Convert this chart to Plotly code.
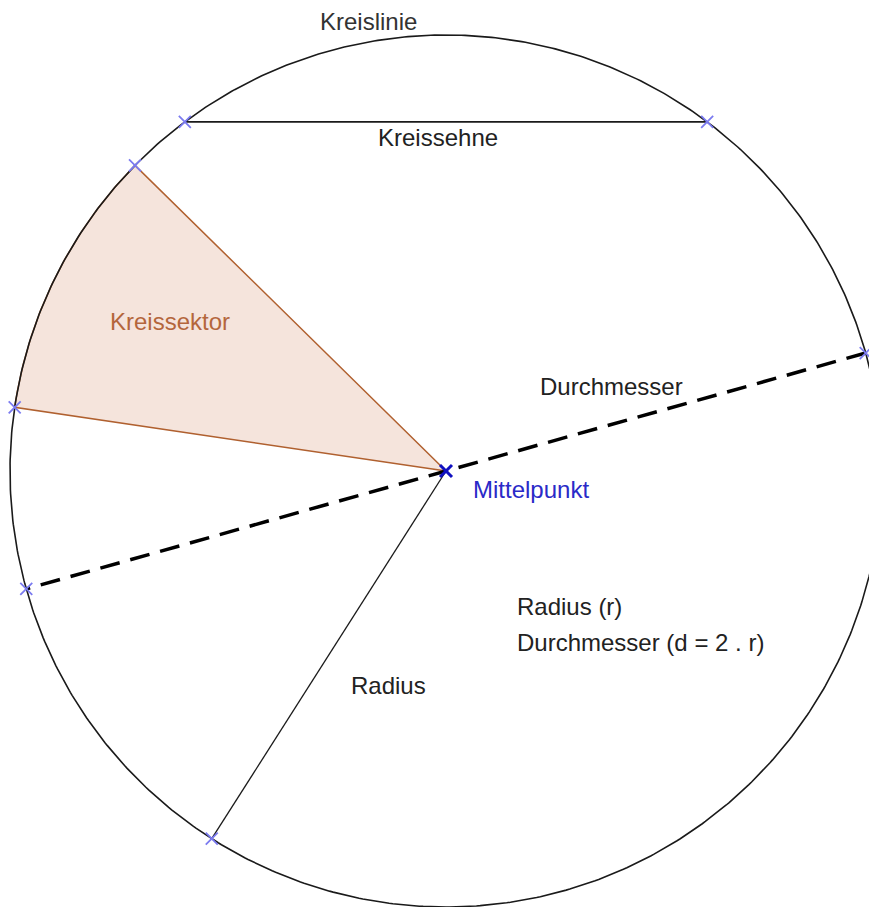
import numpy as np
import plotly.graph_objects as go

# ---- data (pixel-space geometry) ----
center = [446, 471]
radius = 436
chord_angles = [126.8, 53.2]          # degrees, counter-clockwise from +x
sector_angles = [135.5, 171.6]
diameter_angles = [15.7, 195.7]
radius_angle = [237.5]

labels = ["Kreislinie", "Kreissehne", "Kreissektor", "Durchmesser", "Mittelpunkt",
          "Radius (r)", "Durchmesser (d = 2 . r)", "Radius"]
label_x = [368, 438, 170, 611, 471, 515, 515, 388]
label_y = [21, 137, 321, 386, 489, 606, 642, 685]
label_anchor = ["center", "center", "center", "center", "left", "left", "left", "center"]
label_color = ["#333333", "#222222", "#b4663c", "#222222", "#2a2ac8", "#222222", "#222222", "#222222"]

W, H = 877, 907
PAGE_MARGIN = 8
cx, cy = center


def pt(a):
    t = np.radians(a)
    return cx + radius * np.cos(t), cy - radius * np.sin(t)


fig = go.Figure()

# sector
ts = np.linspace(sector_angles[0], sector_angles[1], 80)
sx = [cx] + [pt(a)[0] for a in ts] + [cx]
sy = [cy] + [pt(a)[1] for a in ts] + [cy]
fig.add_trace(go.Scatter(x=sx, y=sy, mode="lines", fill="toself",
                         fillcolor="rgba(232,196,178,0.45)",
                         line=dict(color="#b0602f", width=1.5), hoverinfo="skip"))

# circle
tc = np.linspace(0, 360, 721)
fig.add_trace(go.Scatter(x=[pt(a)[0] for a in tc], y=[pt(a)[1] for a in tc], mode="lines",
                         line=dict(color="#1a1a1a", width=1.6), hoverinfo="skip"))

# chord
fig.add_trace(go.Scatter(x=[pt(a)[0] for a in chord_angles], y=[pt(a)[1] for a in chord_angles],
                         mode="lines", line=dict(color="#1a1a1a", width=1.6), hoverinfo="skip"))

# radius
fig.add_trace(go.Scatter(x=[cx, pt(radius_angle[0])[0]], y=[cy, pt(radius_angle[0])[1]],
                         mode="lines", line=dict(color="#1a1a1a", width=1.3), hoverinfo="skip"))

# diameter
fig.add_trace(go.Scatter(x=[pt(a)[0] for a in diameter_angles], y=[pt(a)[1] for a in diameter_angles],
                         mode="lines", line=dict(color="#000000", width=3.5, dash="20px,11px"),
                         hoverinfo="skip"))

# points on circle
all_angles = chord_angles + sector_angles + diameter_angles + radius_angle
fig.add_trace(go.Scatter(x=[pt(a)[0] for a in all_angles], y=[pt(a)[1] for a in all_angles],
                         mode="markers",
                         marker=dict(symbol="x-thin", size=12, line=dict(color="#7b7bf0", width=1.8)),
                         hoverinfo="skip"))

# centre
fig.add_trace(go.Scatter(x=[cx], y=[cy], mode="markers",
                         marker=dict(symbol="x-thin", size=12, line=dict(color="#1010c0", width=3)),
                         hoverinfo="skip"))

for t, x, y, an, c in zip(labels, label_x, label_y, label_anchor, label_color):
    fig.add_annotation(x=x, y=y, text=t, showarrow=False, xanchor=an, yanchor="middle",
                       font=dict(family="Liberation Sans, Arial, sans-serif", size=24, color=c))

fig.update_layout(
    width=W - PAGE_MARGIN, height=H - PAGE_MARGIN, margin=dict(l=0, r=0, t=0, b=0),
    paper_bgcolor="white", plot_bgcolor="white", showlegend=False,
    xaxis=dict(range=[PAGE_MARGIN, W], visible=False, fixedrange=True),
    yaxis=dict(range=[H, PAGE_MARGIN], visible=False, fixedrange=True),
)

fig.write_html("out.html")
